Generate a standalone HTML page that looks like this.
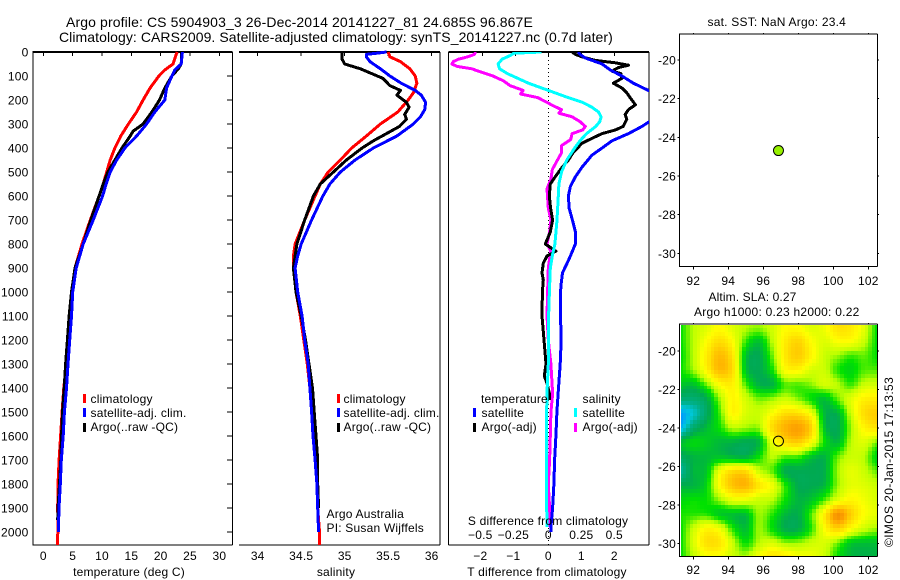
<!DOCTYPE html>
<html lang="en">
<head>
<meta charset="utf-8">
<title>Argo profile CS 5904903_3</title>
<style>
html,body{margin:0;padding:0;background:#fff;width:900px;height:580px;overflow:hidden}
svg{display:block;font-family:"Liberation Sans",Arial,sans-serif;font-size:12px;fill:#000;letter-spacing:0.2px}
</style>
</head>
<body>
<svg id="chart" xmlns="http://www.w3.org/2000/svg" width="900" height="580" viewBox="0 0 900 580">
  <rect x="0" y="0" width="900" height="580" fill="#fff"/>
  <defs>
    <clipPath id="clip-diff"><rect x="449" y="52" width="200" height="493"/></clipPath>
    <clipPath id="clip-map"><rect x="681" y="325" width="196" height="232"/></clipPath>
  </defs>

  <text x="66" y="27" font-size="14" textLength="467" lengthAdjust="spacing">Argo profile: CS 5904903_3 26-Dec-2014 20141227_81 24.685S 96.867E</text>
  <text x="59" y="42" font-size="14" textLength="554" lengthAdjust="spacing">Climatology: CARS2009. Satellite-adjusted climatology: synTS_20141227.nc (0.7d later)</text>

  <g id="panel-temp"></g>
  <g id="panel-sal"></g>
  <g id="panel-diff"></g>
  <g id="panel-sst"></g>
  <g id="panel-sla"></g>

  <text x="129" y="576" text-anchor="middle">temperature (deg C)</text>
  <text x="336" y="576" text-anchor="middle">salinity</text>
  <text x="547" y="576" text-anchor="middle">T difference from climatology</text>
  <text x="548" y="525" text-anchor="middle">S difference from climatology</text>

  <g>
    <rect x="83" y="394" width="3" height="9" fill="#f00"/>
    <text x="90.500" y="403">climatology</text>
    <rect x="83" y="408" width="3" height="9" fill="#00f"/>
    <text x="90.500" y="417">satellite-adj. clim.</text>
    <rect x="83" y="423" width="3" height="9" fill="#000"/>
    <text x="90.500" y="431">Argo(..raw -QC)</text>
  </g>
  <g>
    <rect x="337" y="394" width="3" height="9" fill="#f00"/>
    <text x="343.500" y="403">climatology</text>
    <rect x="337" y="408" width="3" height="9" fill="#00f"/>
    <text x="343.500" y="417">satellite-adj. clim.</text>
    <rect x="337" y="423" width="3" height="9" fill="#000"/>
    <text x="343.500" y="431">Argo(..raw -QC)</text>
  </g>
  <g>
    <text x="481" y="403">temperature</text>
    <rect x="473" y="408" width="3" height="9" fill="#00f"/>
    <text x="481.500" y="417">satellite</text>
    <rect x="473" y="423" width="3" height="9" fill="#000"/>
    <text x="481.500" y="431">Argo(-adj)</text>
    <text x="582.500" y="403">salinity</text>
    <rect x="574" y="408" width="3" height="9" fill="#0ff"/>
    <text x="582.500" y="417">satellite</text>
    <rect x="574" y="423" width="3" height="9" fill="#f0f"/>
    <text x="582.500" y="431">Argo(-adj)</text>
  </g>
  <text x="326.500" y="518">Argo Australia</text>
  <text x="326.500" y="532">PI: Susan Wijffels</text>

  <text x="707.500" y="26" textLength="138.500" lengthAdjust="spacing">sat. SST: NaN Argo: 23.4</text>
  <text x="708.500" y="301" textLength="88" lengthAdjust="spacing">Altim. SLA: 0.27</text>
  <text x="694" y="316" textLength="165.500" lengthAdjust="spacing">Argo h1000: 0.23 h2000: 0.22</text>
  <text transform="translate(893,547) rotate(-90)" textLength="170" lengthAdjust="spacing">©IMOS 20-Jan-2015 17:13:53</text>
</svg>

<script>
// ---------- Temperature profiles ----------
const tempClimDepth  = [0,50,75,100,150,200,250,300,350,400,450,500,550,600,700,800,900,1000,1100,1200,1300,1400,1500,1600,1700,1800,1900,2000,2010,2054];
const tempClimValues = [22.8,22.1,20.7,19.7,18.2,17,15.9,14.5,13.2,12.2,11.4,10.8,10.2,9.5,8,6.6,5.4,4.9,4.55,4.2,3.9,3.5,3.2,2.95,2.7,2.5,2.45,2.5,2.45,2.42];
const tempArgoDepth  = [0,50,70,100,150,200,250,300,330,350,400,450,500,550,600,700,800,900,1000,1100,1200,1300,1400,1500,1600,1700,1800,1900,1950];
const tempArgoValues = [23.6,23.5,23,21.9,20.7,19.8,18.5,17,15.3,14.8,13.4,12.2,11,10.2,9.5,8.1,6.8,5.4,4.8,4.4,4.1,3.8,3.56,3.27,3.1,2.98,2.76,2.5,2.45];
const tempSatDepth   = [0,50,75,100,150,200,250,300,350,400,450,500,550,600,700,800,900,1000,1100,1200,1300,1400,1500,1600,1700,1800,1900,2000];
const tempSatValues  = [23.7,23.5,22.4,21.9,21,20.7,19,17.6,15.9,13.9,12.5,11.4,10.7,10.1,8.5,6.8,5.6,5,4.8,4.5,4.2,3.96,3.6,3.39,3.07,2.9,2.67,2.55];
const tempTicks = [0,5,10,15,20,25,30];
const depthTicks = [0,100,200,300,400,500,600,700,800,900,1000,1100,1200,1300,1400,1500,1600,1700,1800,1900,2000];

// ---------- Salinity profiles ----------
const salClimDepth  = [0,20,40,70,100,130,170,200,250,300,350,400,450,500,550,600,700,800,850,900,1000,1100,1200,1300,1400,1500,1600,1700,1800,1900,2000,2054];
const salClimValues = [35.5,35.52,35.64,35.75,35.81,35.83,35.79,35.73,35.61,35.41,35.25,35.08,34.95,34.81,34.72,34.66,34.54,34.43,34.41,34.41,34.44,34.49,34.53,34.57,34.6,34.63,34.65,34.66,34.68,34.69,34.71,34.71];
const salArgoDepth  = [0,30,50,70,90,110,140,160,180,210,230,260,280,310,340,370,400,450,500,550,600,700,800,850,900,1000,1100,1200,1300,1400,1500,1600,1700,1800,1900];
const salArgoValues = [34.97,34.97,35,35.18,35.31,35.44,35.52,35.64,35.6,35.71,35.74,35.69,35.71,35.63,35.48,35.33,35.2,35.02,34.87,34.72,34.64,34.54,34.45,34.43,34.41,34.44,34.5,34.55,34.59,34.63,34.65,34.67,34.69,34.69,34.7];
const salSatDepth   = [0,5,10,20,40,70,100,130,160,180,210,240,270,300,350,400,450,500,550,600,700,800,850,900,1000,1100,1200,1300,1400,1500,1600,1700,1800,1900,2000];
const salSatValues  = [35.48,35.37,35.25,35.25,35.29,35.41,35.52,35.65,35.81,35.88,35.93,35.92,35.87,35.79,35.6,35.33,35.12,34.95,34.83,34.75,34.62,34.5,34.46,34.43,34.46,34.51,34.54,34.58,34.6,34.62,34.636,34.66,34.68,34.69,34.7];
const salTicks = [34,34.5,35,35.5,36];

// ---------- Difference profiles ----------
const diffTempSatDepth  = [0,10,25,50,75,100,130,160,200,250,290,310,340,370,400,430,480,520,560,600,650,700,750,800,850,880,920,965,1000,1100,1200,1300,1400,1500,1600,1700,1800,1900,1980,2000];
const diffTempSatValues = [0.91,0.96,1.12,1.63,1.88,2.23,2.58,3.03,3.8,3.5,3.06,2.84,2.43,1.93,1.63,1.32,1.02,0.82,0.67,0.61,0.63,0.73,0.82,0.82,0.67,0.57,0.43,0.39,0.37,0.37,0.39,0.36,0.31,0.26,0.23,0.19,0.17,0.13,0.08,0.08];
const diffTempArgoDepth  = [0,10,20,35,45,55,65,80,90,110,130,150,170,190,220,240,260,280,310,325,340,360,380,420,450,480,520,550,600,650,700,750,800,830,850,880,920,950,1000,1100,1200,1300,1350,1380,1420,1450];
const diffTempArgoValues = [0.72,0.82,1.02,1.42,2.03,2.43,2.12,1.93,2.2,2.23,1.97,2.23,2.38,2.48,2.64,2.43,2.33,2.38,2.27,2.03,1.63,1.32,1.02,0.75,0.61,0.42,0.21,0.06,0.03,0.07,0.13,0.06,-0.09,0.23,-0.04,-0.15,-0.19,-0.15,-0.18,-0.19,-0.13,-0.07,-0.12,-0.04,0.03,0.03];
const diffSalSatDepth  = [0,5,15,30,50,70,90,110,130,150,170,190,210,230,250,270,290,310,340,370,400,450,500,550,600,700,800,850,900,1000,1100,1300,1400,1500,1700,1800,1980];
const diffSalSatValues = [-0.05,-0.26,-0.29,-0.35,-0.38,-0.37,-0.31,-0.23,-0.15,-0.05,0.05,0.15,0.26,0.33,0.38,0.4,0.39,0.36,0.29,0.24,0.2,0.14,0.1,0.08,0.076,0.066,0.05,0.03,0.015,0.008,0.002,0,-0.008,-0.013,-0.013,-0.015,-0.01];
const diffSalArgoDepth  = [0,10,20,30,40,50,60,70,85,100,120,140,160,175,190,210,225,240,255,270,290,310,325,340,365,390,420,450,490,530,570,650,700,750,800,830,860,900,1000,1100,1200,1300,1400,1440,1500,1600,1700,1800,1900,1980];
const diffSalArgoValues = [-0.55,-0.56,-0.61,-0.68,-0.72,-0.73,-0.69,-0.58,-0.5,-0.42,-0.34,-0.29,-0.19,-0.21,-0.08,-0.01,0.04,0.1,0.08,0.18,0.24,0.28,0.26,0.18,0.17,0.1,0.1,0.07,0.03,0.02,-0.01,0,0.02,0.01,-0.01,0.02,0.01,0,-0.005,-0.01,0,0.02,0.03,0.03,0.02,0.015,0.01,0,0.01,0];
const diffTTicks = [-2,-1,0,1,2];
const diffSTicks = [-0.5,-0.25,0,0.25,0.5];

// ---------- Maps ----------
const mapLonTicks = [92,94,96,98,100,102];
const mapLatTicks = [-20,-22,-24,-26,-28,-30];
const floatLon = [96.867];
const floatLat = [-24.685];
const heatLon = [91.25,92,92.75,93.5,94.25,95,95.75,96.5,97.25,98,98.75,99.5,100.25,101,101.75,102.5];
const heatLat = [-18.75,-19.5,-20.25,-21,-21.75,-22.5,-23.25,-24,-24.75,-25.5,-26.25,-27,-27.75,-28.5,-29.25,-30,-30.75];
const heatSla = [
  [1,2,2.5,3,2.5,2,1.8,2.3,3,3,2.5,2.8,3.7,3.5,2.6,1],
  [1,2,3,3.8,3,1.3,0.5,2,3.4,4,3,2.5,3,3,2.2,1],
  [0.9,2,3.4,4.6,3.6,0.5,0,1.5,3.5,4.2,3.2,2.2,1.8,1.3,1.5,1],
  [1,1.8,3.2,4.6,3.8,0.5,0,1,3,3.2,2.4,2.2,1.2,0.8,1.4,1.4],
  [0.5,0.4,1.5,3,3.3,1.4,0.2,0.2,1.4,1.4,1.7,2.3,2,1.3,2.2,2.3],
  [-0.6,-0.6,0,1.8,3.2,2.3,1.6,1.8,2.2,1.7,1,0.4,1.5,2.5,3.3,3.4],
  [-2.8,-1.8,-0.3,1.3,3.2,2.4,2.2,3,3.8,3.8,2.8,0.3,0.2,2.2,3.8,4.2],
  [-2.4,-0.5,0.3,1,2,1.8,1.8,3.8,4.8,5.2,4,0.5,0,1.8,3.2,3.6],
  [0.3,0.8,0.6,0.3,0.2,0,0.3,2.6,3.8,4.2,3,1,0.3,2,2.5,1.7],
  [-0.3,0.2,0.3,0.5,0.3,0.2,1,2,1.4,1.3,0.5,0.2,1.5,2.2,2,0.8],
  [-1.2,0.2,0.5,2.7,3.8,3.8,2.2,1.5,0.1,0,0,0.1,1.8,2.6,2.2,1.5],
  [0.1,0.2,0.8,3,4.4,4.7,3.6,2.8,1.2,0,0,0.3,1.8,2.6,2.5,2.2],
  [0.8,1,1,1.8,2.6,2.6,2.2,2,1,0.2,0.5,1.4,2.6,3.2,2.8,2.4],
  [1.1,1.2,1.2,0.6,0.4,0.4,1.8,1.2,0.3,0.1,1.4,3.4,5.6,4.2,3,2.6],
  [1,2.2,3.2,2.8,1.2,0.4,1.8,1,0.1,0.1,1.2,3,4,3,2.2,1.8],
  [1,2.4,3.7,3.6,2.2,1,2,2.4,1.8,1.8,2.2,2.4,1.6,0.6,0.4,0.4],
  [1,2,2.8,2.8,2.2,2,3,3.8,3.6,3,2.8,2.2,1,0.3,0.1,0.2]
];

// ---------- Axis functions ----------
const SVGNS = 'http://www.w3.org/2000/svg';
const yDepth = d => 52 + d * 0.24;
const xTemp = t => 43.3 + t * 5.87;
const xSal = s => 257.7 + (s - 34) * 87;
const xDiffT = t => 548.3 + t * 33;
const xDiffS = s => 548.3 + s * 132;
const xLon = lon => 693.3 + (lon - 92) * 17.5;
const ySst = lat => 60 + (-20 - lat) * 19.33;
const ySla = lat => 351 + (-20 - lat) * 19.23;

function make(tag, parent, attrs) {
  const el = document.createElementNS(SVGNS, tag);
  for (const k in attrs) el.setAttribute(k, attrs[k]);
  parent.appendChild(el);
  return el;
}
function line(parent, name, x1, y1, x2, y2, w) {
  const el = make('line', parent, {x1: x1, y1: y1, x2: x2, y2: y2, stroke: '#000', 'stroke-width': w || 1, 'shape-rendering': 'crispEdges'});
  
  
  return el;
}
function label(parent, name, x, y, anchor, str) {
  const el = make('text', parent, {x: x, y: y, 'text-anchor': anchor});
  el.textContent = str;
  
  
  return el;
}
function series(parent, name, depths, values, xFn, color, clip) {
  const pts = depths.map((d, i) => xFn(values[i]).toFixed(1) + ',' + yDepth(d).toFixed(1)).join(' ');
  const el = make('polyline', parent, {points: pts, fill: 'none', stroke: color, 'stroke-width': 3, 'stroke-linejoin': 'round', 'shape-rendering': 'crispEdges'});
  if (clip) el.setAttribute('clip-path', 'url(#' + clip + ')');
  
  
  return el;
}

// ---------- Temperature panel ----------
const pT = document.getElementById('panel-temp');
line(pT, 'temperature-axis-top', 32.5, 52, 232.5, 52, 2);
line(pT, 'temperature-axis-bottom', 32.5, 545, 232.5, 545, 1);
line(pT, 'depth-axis-line', 33, 52, 33, 545, 1);
line(pT, 'temperature-axis-right', 232.5, 52, 232.5, 545, 1);
tempTicks.forEach(t => {
  line(pT, 'temperature-top-tick', xTemp(t), 52, xTemp(t), 56, 1);
  label(pT, 'temperature-tick-label', xTemp(t), 560, 'middle', String(t));
});
depthTicks.forEach(d => {
  line(pT, 'depth-right-tick', 227, yDepth(d), 232, yDepth(d), 1);
  label(pT, 'depth-tick-label', 28.5, yDepth(d) + 4.5, 'end', String(d));
});
series(pT, 'temperature-climatology-line', tempClimDepth, tempClimValues, xTemp, '#f00');
series(pT, 'temperature-argo-line', tempArgoDepth, tempArgoValues, xTemp, '#000');
series(pT, 'temperature-satellite-line', tempSatDepth, tempSatValues, xTemp, '#00f');

// ---------- Salinity panel ----------
const pS = document.getElementById('panel-sal');
line(pS, 'salinity-axis-top', 239, 52, 440, 52, 2);
line(pS, 'salinity-axis-bottom', 239, 545, 440, 545, 1);
line(pS, 'salinity-axis-right', 440, 52, 440, 545, 1);
salTicks.forEach(s => {
  line(pS, 'salinity-top-tick', xSal(s), 52, xSal(s), 56, 1);
  label(pS, 'salinity-tick-label', xSal(s), 560, 'middle', String(s));
});
series(pS, 'salinity-climatology-line', salClimDepth, salClimValues, xSal, '#f00');
series(pS, 'salinity-argo-line', salArgoDepth, salArgoValues, xSal, '#000');
series(pS, 'salinity-satellite-line', salSatDepth, salSatValues, xSal, '#00f');

// ---------- Difference panel ----------
const pD = document.getElementById('panel-diff');
line(pD, 'difference-axis-top', 448.500, 52, 649, 52, 2);
line(pD, 'difference-axis-bottom', 448.500, 545, 649, 545, 1);
line(pD, 'difference-axis-left', 448.500, 52, 448.500, 545, 1);
line(pD, 'difference-axis-right', 649, 52, 649, 545, 1);
const zero = make('line', pD, {x1: xDiffT(0), y1: 52, x2: xDiffT(0), y2: 545, stroke: '#000', 'stroke-width': 1, 'stroke-dasharray': '1 3', 'shape-rendering': 'crispEdges'});


diffTTicks.forEach(t => {
  line(pD, 't-difference-top-tick', xDiffT(t), 52, xDiffT(t), 56, 1);
  label(pD, 't-difference-tick-label', xDiffT(t) - (t < 0 ? 2 : 0), 560, 'middle', String(t).replace('-', '\u2212'));
});
diffSTicks.forEach(s => {
  label(pD, 's-difference-tick-label', xDiffS(s) - (s < 0 ? 2 : 0), 539, 'middle', String(s).replace('-', '\u2212'));
});
series(pD, 'salinity-argo-difference-line', diffSalArgoDepth, diffSalArgoValues, xDiffS, '#f0f', 'clip-diff');
series(pD, 'temperature-argo-difference-line', diffTempArgoDepth, diffTempArgoValues, xDiffT, '#000', 'clip-diff');
series(pD, 'temperature-satellite-difference-line', diffTempSatDepth, diffTempSatValues, xDiffT, '#00f', 'clip-diff');
series(pD, 'salinity-satellite-difference-line', diffSalSatDepth, diffSalSatValues, xDiffS, '#0ff', 'clip-diff');

// ---------- Map frames ----------
function mapFrame(parent, prefix, yTop, yBottom, yFn, labelY) {
  line(parent, prefix + '-axis-top', 679, yTop, 877.500, yTop, 1);
  line(parent, prefix + '-axis-bottom', 679, yBottom, 877.500, yBottom, 1);
  line(parent, prefix + '-axis-left', 679.500, yTop, 679.500, yBottom, 1);
  line(parent, prefix + '-axis-right', 877.500, yTop, 877.500, yBottom, 1);
  mapLonTicks.forEach(lon => {
    line(parent, prefix + '-lon-tick-bottom', xLon(lon), yBottom, xLon(lon), yBottom + 3, 1);
    line(parent, prefix + '-lon-tick-top', xLon(lon), yTop - 1, xLon(lon), yTop, 1);
    label(parent, prefix + '-lon-tick-label', xLon(lon), labelY, 'middle', String(lon));
  });
  mapLatTicks.forEach(lat => {
    line(parent, prefix + '-lat-tick-right', 877.500, yFn(lat), 879, yFn(lat), 1);
    line(parent, prefix + '-lat-tick-left', 677.500, yFn(lat), 679.500, yFn(lat), 1);
    label(parent, prefix + '-lat-tick-label', 676, yFn(lat) + 4.5, 'end', '-' + Math.abs(lat));
  });
}

// ---------- SST map ----------
const pSst = document.getElementById('panel-sst');
mapFrame(pSst, 'sst-map', 34, 266.500, ySst, 285);
floatLon.forEach((lon, i) => {
  const dot = make('circle', pSst, {cx: xLon(lon), cy: ySst(floatLat[i]), r: 5, fill: '#96f000', stroke: '#000', 'stroke-width': 1});
  
  
});

// ---------- SLA map ----------
const colormapLevels = [-3,-2,-1,0,1,2,3,4,5,6];
const colormapColors = [[0,150,255],[0,200,220],[0,175,135],[0,170,80],[0,225,0],[190,255,0],[255,255,0],[255,215,0],[255,170,0],[240,130,0]];
function slaColor(v) {
  const lv = colormapLevels;
  if (v <= lv[0]) return 'rgb(' + colormapColors[0].join(',') + ')';
  for (let i = 1; i < lv.length; i++) {
    if (v <= lv[i]) {
      const f = (v - lv[i - 1]) / (lv[i] - lv[i - 1]);
      const a = colormapColors[i - 1], b = colormapColors[i];
      return 'rgb(' + a.map((c, k) => Math.round(c + (b[k] - c) * f)).join(',') + ')';
    }
  }
  return 'rgb(' + colormapColors[colormapColors.length - 1].join(',') + ')';
}
function cubic(p0, p1, p2, p3, t) {
  return p1 + 0.5 * t * (p2 - p0 + t * (2 * p0 - 5 * p1 + 4 * p2 - p3 + t * (3 * (p1 - p2) + p3 - p0)));
}
function sampleSla(lon, lat) {
  const nx = heatLon.length, ny = heatLat.length;
  const fx = Math.max(0, Math.min(nx - 1.001, (lon - heatLon[0]) / (heatLon[1] - heatLon[0])));
  const fy = Math.max(0, Math.min(ny - 1.001, (lat - heatLat[0]) / (heatLat[1] - heatLat[0])));
  const ix = Math.floor(fx), iy = Math.floor(fy);
  const row = r => {
    const R = heatSla[Math.max(0, Math.min(ny - 1, r))];
    const at = c => R[Math.max(0, Math.min(nx - 1, c))];
    return cubic(at(ix - 1), at(ix), at(ix + 1), at(ix + 2), fx - ix);
  };
  return cubic(row(iy - 1), row(iy), row(iy + 1), row(iy + 2), fy - iy);
}
const pSla = document.getElementById('panel-sla');
const heatGroup = make('g', pSla, {'clip-path': 'url(#clip-map)', 'shape-rendering': 'crispEdges'});


const cellLon = 0.2, cellLat = 0.2;
for (let lat = -18.6; lat > -30.8; lat -= cellLat) {
  for (let lon = 91.2; lon < 102.7; lon += cellLon) {
    const x0 = Math.round(xLon(lon)), x1 = Math.round(xLon(lon + cellLon));
    const y0 = Math.round(ySla(lat)), y1 = Math.round(ySla(lat - cellLat));
    const cell = make('rect', heatGroup, {x: x0, y: y0, width: x1 - x0, height: y1 - y0, fill: slaColor(sampleSla(lon + cellLon / 2, lat - cellLat / 2))});
    
    
  }
}
mapFrame(pSla, 'sla-map', 324, 556.500, ySla, 574);
floatLon.forEach((lon, i) => {
  const ring = make('circle', pSla, {cx: xLon(lon), cy: ySla(floatLat[i]), r: 5, fill: 'none', stroke: '#000', 'stroke-width': 1});
  
  
});
</script>
</body>
</html>
